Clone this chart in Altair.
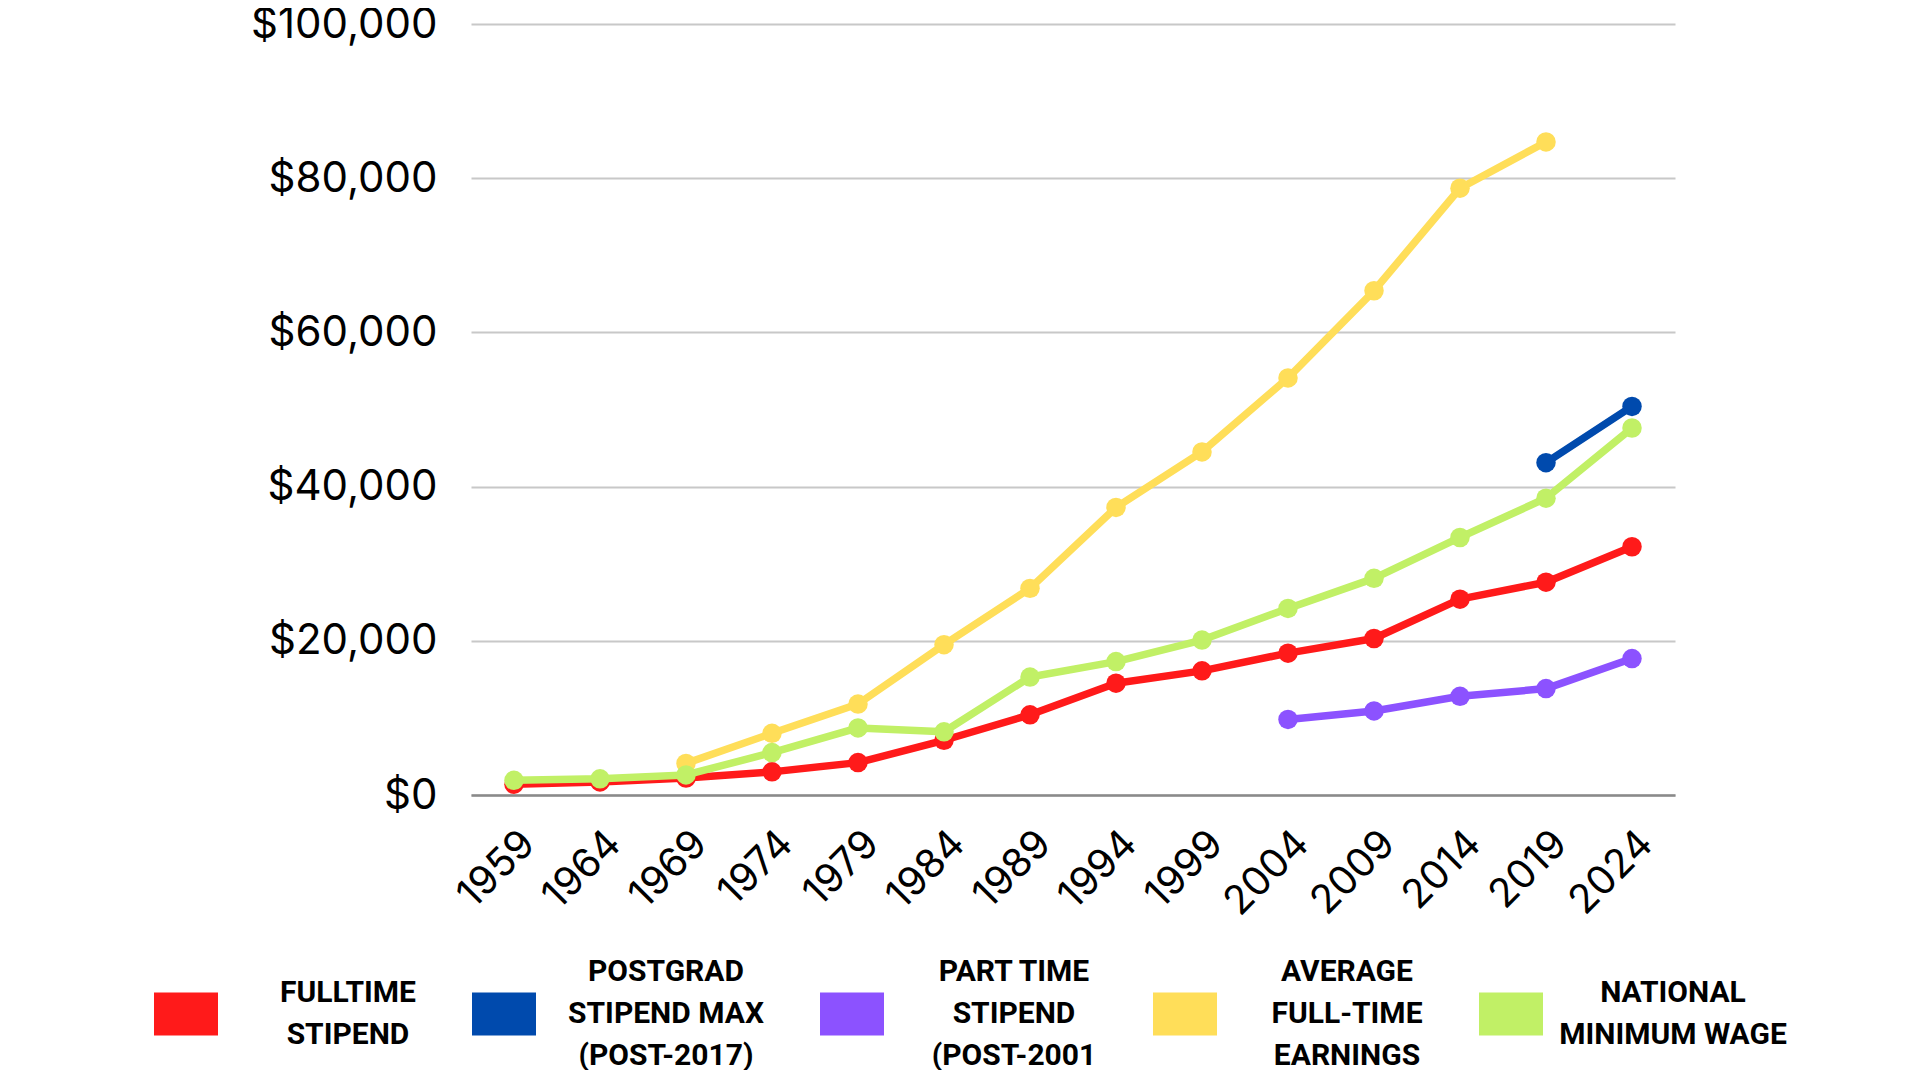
import altair as alt
import pandas as pd

years = ["1959", "1964", "1969", "1974", "1979", "1984", "1989", "1994",
         "1999", "2004", "2009", "2014", "2019", "2024"]

series_names = [
    "FULLTIME|STIPEND",
    "POSTGRAD|STIPEND MAX|(POST-2017)",
    "PART TIME|STIPEND|(POST-2001",
    "AVERAGE|FULL-TIME|EARNINGS",
    "NATIONAL|MINIMUM WAGE",
]
series_colors = ["#FF1A1A", "#004AAD", "#8C52FF", "#FFDE59", "#C1F066"]

fulltime_stipend = [1400, 1700, 2200, 3000, 4200, 7100, 10400, 14500, 16100,
                    18400, 20300, 25400, 27600, 32200]
postgrad_stipend_max = [None] * 12 + [43100, 50400]
part_time_stipend = [None] * 9 + [9800, 10900, 12800, 13800, 17700]
average_earnings = [None, None, 4100, 8000, 11800, 19500, 26800, 37300, 44500,
                    54100, 65400, 78700, 84700, None]
minimum_wage = [1900, 2100, 2600, 5500, 8700, 8200, 15300, 17300, 20100,
                24200, 28100, 33400, 38500, 47600]

all_values = [fulltime_stipend, postgrad_stipend_max, part_time_stipend,
              average_earnings, minimum_wage]

rows = []
for name, vals in zip(series_names, all_values):
    for yr, v in zip(years, vals):
        if v is not None:
            rows.append({"year": yr, "value": v, "series": name})
df = pd.DataFrame(rows)

AXIS_FONT = "Inter"
LEG_FONT = "Roboto"
ZW = "\u200b"  # zero-width spacer line (not trimmed, keeps the half-line grid)

x_enc = alt.X("year:O", sort=years,
              scale=alt.Scale(type="point", padding=0.5, domain=years),
              axis=alt.Axis(title=None, labelAngle=-45, labelFontSize=40,
                            labelFont=AXIS_FONT, labelColor="#000000",
                            labelPadding=28, ticks=False, grid=False,
                            domainColor="#8A8A8A", domainWidth=2.5))
y_enc = alt.Y("value:Q",
              scale=alt.Scale(domain=[0, 100000], nice=False, zero=True),
              axis=alt.Axis(title=None, values=[0, 20000, 40000, 60000, 80000, 100000],
                            format="$,.0f", labelFontSize=42, labelFont=AXIS_FONT,
                            labelColor="#000000", labelPadding=34, labelLimit=400,
                            ticks=False, domain=False, grid=True,
                            gridColor="#C8C8C8", gridWidth=2))

# legend text: lines on a half-line grid so that 2- and 3-line labels
# share the same vertical centre
label_expr = (
    "split(length(split(datum.label, '|')) > 2 "
    f"? join(split(datum.label, '|'), '|{ZW}|') "
    f": '{ZW}|' + join(split(datum.label, '|'), '|{ZW}|') + '|{ZW}', '|')"
)

legend = alt.Legend(
    title=None, orient="none", legendX=-317, legendY=916,
    direction="horizontal", columnPadding=56, padding=0,
    labelExpr=label_expr,
    labelAlign="center", labelOffset=130, labelFont=LEG_FONT,
    labelFontSize=30, labelFontWeight="bold", labelColor="#000000",
    labelLimit=500,
    symbolType="M-1,0.6406H1V1.9844H-1Z", symbolSize=4096,
    symbolStrokeWidth=0, symbolOpacity=1,
)

color_enc = alt.Color("series:N",
                      scale=alt.Scale(domain=series_names, range=series_colors),
                      legend=legend)

layers = []
for name in series_names:
    base = alt.Chart(df).transform_filter(alt.datum.series == name)
    line = base.mark_line(strokeWidth=7.5, strokeCap="round", strokeJoin="round").encode(
        x=x_enc, y=y_enc, color=color_enc)
    pts = base.mark_circle(size=380, opacity=1).encode(
        x=x_enc, y=y_enc, color=color_enc)
    layers += [line, pts]

chart = alt.layer(*layers).properties(
    width=1204, height=771,
    autosize=alt.AutoSizeParams(type="none"),
    padding={"left": 463, "top": 16, "right": 237, "bottom": 275},
    background="#FFFFFF",
).configure(
    view=alt.ViewConfig(stroke=None),
    style={"guide-label": {"lineHeight": 21}},
)

chart.save("out.html", embed_options={"renderer": "svg", "actions": False})
